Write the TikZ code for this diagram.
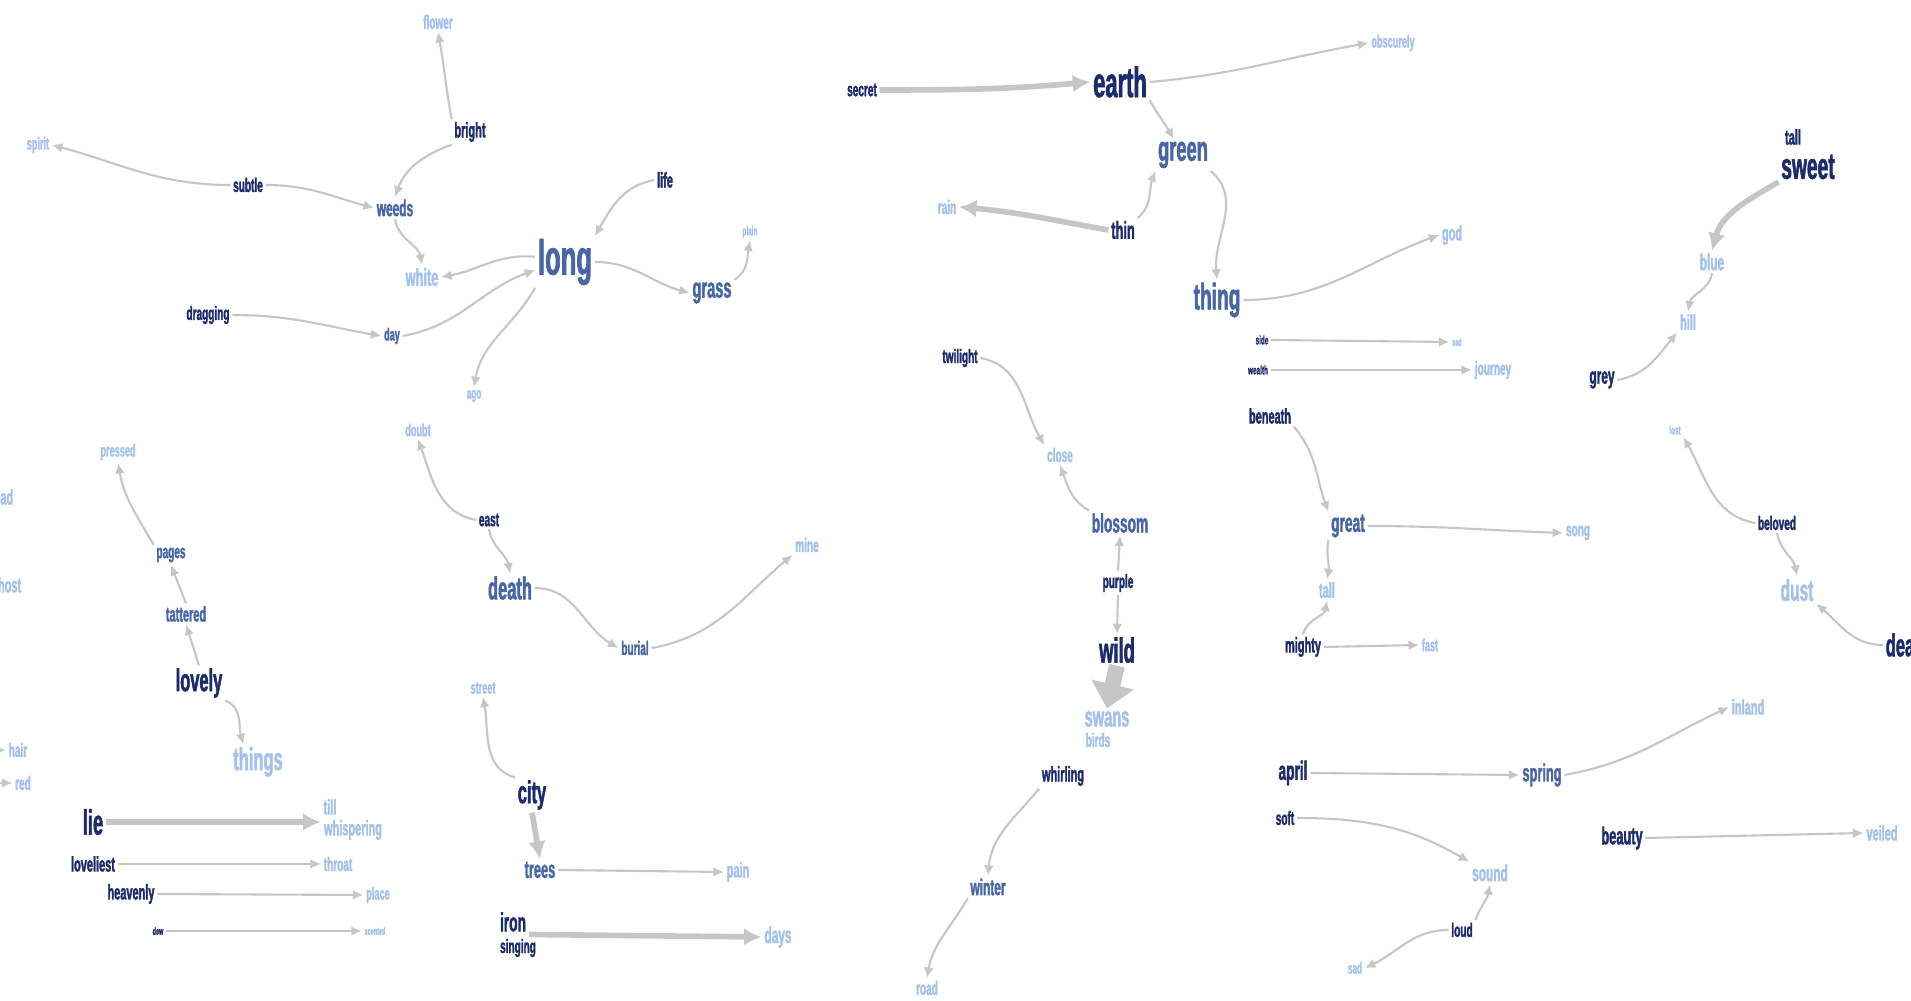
\documentclass[tikz,border=0pt]{standalone}
\usepackage{fontspec}
\newfontfamily\wordfont{Liberation Sans}[FakeStretch=0.52, BoldFeatures={FakeBold=1.5}]
\usetikzlibrary{arrows.meta}
\definecolor{wdark}{HTML}{1C2B6B}
\definecolor{wmid}{HTML}{4866A6}
\definecolor{wlight}{HTML}{A3C1EA}
\definecolor{wline}{HTML}{C6C6C6}
\newcommand{\wf}[1]{\wordfont\bfseries\fontsize{#1}{#1}\selectfont}

\begin{document}
\begin{tikzpicture}[
    x=0.01cm, y=0.01cm,
    word/.style={inner sep=0.6pt},
    dk/.style={word, text=wdark},
    md/.style={word, text=wmid},
    lt/.style={word, text=wlight},
    lnk/.style={draw=wline, line width=0.6pt, -{Latex[length=3pt,width=2.8pt]}},
    thk/.style={draw=wline, line width=1.6pt, -{Latex[length=5pt,width=5pt]}},
    fat/.style={draw=wline, line width=4.5pt, -{Triangle[length=7pt,width=12pt]}},
]
\clip (0,0) rectangle (1911,-1001);
% top left
\node[lt, font=\wf{5.5}] (flower)   at (438,-22)  {flower};
\node[dk, font=\wf{6}]   (bright)   at (470,-132) {bright};
\node[lt, font=\wf{5}]   (spirit)   at (38,-145)  {spirit};
\node[dk, font=\wf{5.5}] (subtle)   at (248,-185) {subtle};
\node[md, font=\wf{6.5}] (weeds)    at (395,-208) {weeds};
\node[lt, font=\wf{7}]   (white)    at (422,-277) {white};
\node[dk, font=\wf{6}]   (life)     at (665,-180) {life};
\node[md, font=\wf{14}]  (long)     at (565,-262) {long};
\node[md, font=\wf{8}]   (grass)    at (712,-293) {grass};
\node[lt, font=\wf{3.5}] (plain)    at (750,-232) {plain};
\node[dk, font=\wf{5.5}] (dragging) at (208,-315) {dragging};
\node[md, font=\wf{5}]   (day)      at (392,-336) {day};
\node[lt, font=\wf{4.5}] (ago)      at (474,-396) {ago};
% top middle
\node[dk, font=\wf{5.5}] (secret)    at (862,-90)   {secret};
\node[dk, font=\wf{12}]  (earth)     at (1120,-82)  {earth};
\node[lt, font=\wf{5}]   (obscurely) at (1393,-43)  {obscurely};
\node[md, font=\wf{10}]  (green)     at (1183,-155) {green};
\node[lt, font=\wf{5.5}] (rain)      at (947,-207)  {rain};
\node[dk, font=\wf{7}]   (thin)      at (1123,-230) {thin};
\node[md, font=\wf{10.5}](thing)     at (1217,-300) {thing};
\node[lt, font=\wf{6}]   (god)       at (1452,-235) {god};
% top right
\node[dk, font=\wf{6}]    (tall)    at (1793,-137) {tall};
\node[dk, font=\wf{10.5}] (sweet)   at (1808,-167) {sweet};
\node[lt, font=\wf{6.5}]  (blue)    at (1712,-262) {blue};
\node[lt, font=\wf{6}]    (hill)    at (1688,-322) {hill};
\node[dk, font=\wf{6.5}]  (grey)    at (1602,-380) {grey};
\node[dk, font=\wf{3.5}]  (side)    at (1262,-340) {side};
\node[lt, font=\wf{3}]    (sad)     at (1457,-342) {sad};
\node[dk, font=\wf{3.5}]  (wealth)  at (1258,-370) {wealth};
\node[lt, font=\wf{5.5}]  (journey) at (1493,-370) {journey};
% middle
\node[dk, font=\wf{5.5}] (twilight) at (960,-358)  {twilight};
\node[lt, font=\wf{5.5}] (close)    at (1060,-455) {close};
\node[md, font=\wf{7.5}] (blossom)  at (1120,-523) {blossom};
\node[dk, font=\wf{5.5}] (purple)   at (1118,-583) {purple};
\node[dk, font=\wf{10}]  (wild)     at (1117,-650) {wild};
\node[lt, font=\wf{8}]   (swans)    at (1107,-719) {swans};
\node[lt, font=\wf{5.5}] (birds)    at (1098,-740) {birds};
\node[dk, font=\wf{6}]   (beneath)  at (1270,-416) {beneath};
\node[md, font=\wf{7.5}] (great)    at (1348,-526) {great};
\node[lt, font=\wf{5.5}] (song)     at (1578,-533) {song};
\node[lt, font=\wf{6}]   (tallb)    at (1327,-590) {tall};
\node[dk, font=\wf{6}]   (mighty)   at (1303,-647) {mighty};
\node[lt, font=\wf{5}]   (fast)     at (1430,-645) {fast};
\node[lt, font=\wf{3.5}] (lost)     at (1675,-430) {lost};
\node[dk, font=\wf{5.5}] (beloved)  at (1777,-523) {beloved};
\node[lt, font=\wf{8.5}] (dust)     at (1797,-590) {dust};
\node[dk, font=\wf{9}, anchor=west] (dead) at (1883,-645) {dead};
% left middle
\node[lt, font=\wf{5}]   (pressed)  at (118,-452) {pressed};
\node[md, font=\wf{5.5}] (pages)    at (171,-555) {pages};
\node[md, font=\wf{6}]   (tattered) at (186,-614) {tattered};
\node[dk, font=\wf{9}]   (lovely)   at (199,-683) {lovely};
\node[lt, font=\wf{9}]   (things)   at (258,-762) {things};
\node[lt, font=\wf{5}]   (doubt)    at (418,-430) {doubt};
\node[dk, font=\wf{5.5}] (east)     at (489,-520) {east};
\node[md, font=\wf{9}]   (death)    at (510,-588) {death};
\node[md, font=\wf{5.5}] (burial)   at (635,-648) {burial};
\node[lt, font=\wf{5.5}] (mine)     at (807,-545) {mine};
% left edge
\node[lt, font=\wf{6}, anchor=east] (head)  at (16,-497) {head};
\node[lt, font=\wf{6}, anchor=east] (ghost) at (24,-587) {ghost};
\node[lt, font=\wf{5.5}, anchor=east] (hair) at (30,-750) {hair};
\node[lt, font=\wf{5.5}] (red) at (23,-783) {red};
\coordinate (offhair) at (-60,-752);
\coordinate (offred)  at (-60,-783);
% bottom left
\node[dk, font=\wf{10}]  (lie)        at (93,-822)  {lie};
\node[lt, font=\wf{6}]   (till)       at (330,-807) {till};
\node[lt, font=\wf{6}]   (whispering) at (353,-830) {whispering};
\node[dk, font=\wf{6}]   (loveliest)  at (93,-864)  {loveliest};
\node[lt, font=\wf{5.5}] (throat)     at (338,-864) {throat};
\node[dk, font=\wf{6}]   (heavenly)   at (131,-894) {heavenly};
\node[lt, font=\wf{5}]   (place)      at (378,-895) {place};
\node[dk, font=\wf{3}]   (dew)        at (158,-931) {dew};
\node[lt, font=\wf{3}]   (scented)    at (375,-931) {scented};
\node[lt, font=\wf{5}]   (street)     at (483,-688) {street};
\node[dk, font=\wf{9}]   (city)       at (532,-795) {city};
\node[md, font=\wf{7}]   (trees)      at (540,-870) {trees};
\node[lt, font=\wf{6}]   (pain)       at (738,-872) {pain};
\node[dk, font=\wf{7.5}] (iron)       at (513,-922) {iron};
\node[dk, font=\wf{5.5}] (singing)    at (518,-948) {singing};
\node[lt, font=\wf{6.5}] (days)       at (778,-937) {days};
% bottom right
\node[dk, font=\wf{6}]   (whirling) at (1063,-776) {whirling};
\node[md, font=\wf{6.5}] (winter)   at (988,-887)  {winter};
\node[lt, font=\wf{5.5}] (road)     at (927,-988)  {road};
\node[dk, font=\wf{7.5}] (april)    at (1293,-773) {april};
\node[md, font=\wf{7}]   (spring)   at (1542,-775) {spring};
\node[lt, font=\wf{6}]   (inland)   at (1748,-707) {inland};
\node[dk, font=\wf{5.5}] (soft)     at (1285,-818) {soft};
\node[lt, font=\wf{6.5}] (sound)    at (1490,-873) {sound};
\node[dk, font=\wf{5.5}] (loud)     at (1462,-930) {loud};
\node[lt, font=\wf{4.5}] (sadb)     at (1355,-968) {sad};
\node[dk, font=\wf{7}]   (beauty)   at (1622,-838) {beauty};
\node[lt, font=\wf{6}]   (veiled)   at (1882,-833) {veiled};

% top left links
\draw[lnk] (bright.north west) to[out=100,in=-80] (flower.south);
\draw[lnk] (bright.south west) to[out=200,in=70] (weeds.north);
\draw[lnk] (subtle.west) to[out=180,in=-15] (spirit.east);
\draw[lnk] (subtle.east) to[out=0,in=165] (weeds.west);
\draw[lnk] (weeds.south) to[out=-80,in=100] (white.north);
\draw[lnk] (long.170) to[out=175,in=10] (white.east);
\draw[lnk] (life.west) to[out=190,in=60] (long.north east);
\draw[lnk] (long.east) to[out=0,in=165] (grass.west);
\draw[lnk] (grass.north east) to[out=30,in=-100] (plain.south);
\draw[lnk] (dragging.east) to[out=0,in=170] (day.west);
\draw[lnk] (day.east) to[out=10,in=200] (long.195);
\draw[lnk] (long.south west) to[out=240,in=80] (ago.north);
% top middle links
\draw[thk] (secret.east) to[out=0,in=185] (earth.west);
\draw[lnk] (earth.east) to[out=5,in=190] (obscurely.west);
\draw[lnk] (earth.south east) to[out=-60,in=120] (green.120);
\draw[thk] (thin.west) to[out=170,in=-5] (rain.east);
\draw[lnk] (thin.north east) to[out=40,in=-110] (green.south west);
\draw[lnk] (green.south east) to[out=-40,in=95] (thing.north);
\draw[lnk] (thing.east) to[out=0,in=200] (god.west);
% top right links
\draw[thk] (sweet.south west) to[out=210,in=75] (blue.north);
\draw[lnk] (blue.south) to[out=-100,in=80] (hill.north);
\draw[lnk] (grey.east) to[out=10,in=-130] (hill.south west);
\draw[lnk] (side.east) -- (sad.west);
\draw[lnk] (wealth.east) -- (journey.west);
% middle links
\draw[lnk] (twilight.east) to[out=-10,in=120] (close.north west);
\draw[lnk] (blossom.north west) to[out=150,in=-70] (close.south);
\draw[lnk] (purple.north) -- (blossom.south);
\draw[lnk] (purple.south) -- (wild.north);
\draw[fat] (wild.south) -- (swans.north);
\draw[lnk] (beneath.south east) to[out=-50,in=110] (great.north west);
\draw[lnk] (great.east) to[out=0,in=178] (song.west);
\draw[lnk] (great.south west) to[out=-100,in=80] (tallb.north);
\draw[lnk] (mighty.north) to[out=75,in=-100] (tallb.south);
\draw[lnk] (mighty.east) -- (fast.west);
\draw[lnk] (beloved.west) to[out=170,in=-60] (lost.south east);
\draw[lnk] (beloved.south) to[out=-80,in=100] (dust.north);
\draw[lnk] (dead.west) to[out=180,in=-40] (dust.south east);
% left middle links
\draw[lnk] (pages.north west) to[out=120,in=-80] (pressed.south);
\draw[lnk] (tattered.north) -- (pages.south);
\draw[lnk] (lovely.north) -- (tattered.south);
\draw[lnk] (lovely.south east) to[out=-20,in=105] (things.130);
\draw[lnk] (east.west) to[out=170,in=-70] (doubt.south);
\draw[lnk] (east.south) to[out=-80,in=100] (death.north);
\draw[lnk] (death.east) to[out=0,in=150] (burial.west);
\draw[lnk] (burial.east) to[out=10,in=-140] (mine.south west);
\draw[lnk] (offhair) -- (hair.west);
\draw[lnk] (offred) -- (red.west);
% bottom left links
\draw[thk] (lie.east) -- (lie.east -| till.west);
\draw[lnk] (loveliest.east) -- (throat.west);
\draw[lnk] (heavenly.east) -- (place.west);
\draw[lnk] (dew.east) -- (scented.west);
\draw[lnk] (city.north west) to[out=165,in=-80] (street.south);
\draw[thk] (city.south) -- (trees.north);
\draw[lnk] (trees.east) -- (pain.west);
\draw[thk] (iron.south east) -- (days.west);
% bottom right links
\draw[lnk] (whirling.south west) to[out=230,in=85] (winter.north);
\draw[lnk] (winter.south west) to[out=240,in=80] (road.north);
\draw[lnk] (april.east) -- (spring.west);
\draw[lnk] (spring.east) to[out=10,in=205] (inland.west);
\draw[lnk] (soft.east) to[out=0,in=150] (sound.north west);
\draw[lnk] (loud.north east) to[out=70,in=-100] (sound.south);
\draw[lnk] (loud.west) to[out=180,in=25] (sadb.east);
\draw[lnk] (beauty.east) -- (veiled.west);
\end{tikzpicture}
\end{document}
